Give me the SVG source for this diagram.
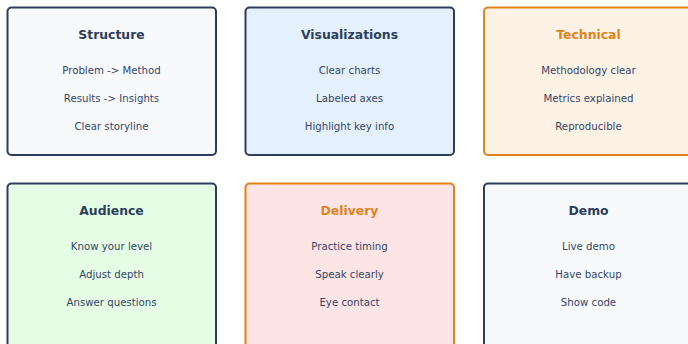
<svg xmlns="http://www.w3.org/2000/svg" width="688" height="344" viewBox="0 0 688 344">
<style>
  .box { stroke-width: 2; }
  .navy { stroke: #2c3e5c; }
  .orange { stroke: #e2821a; }
  .title { font-family: "DejaVu Sans", sans-serif; font-weight: bold; font-size: 12.4px; text-anchor: middle; }
  .tn { fill: #2c3e5c; }
  .to { fill: #e2821a; }
  .item { font-family: "DejaVu Sans", sans-serif; font-size: 10.2px; fill: #34466a; text-anchor: middle; }
</style>
<rect width="688" height="344" fill="#ffffff"/>
<g id="connectors"></g>
<g id="structure">
  <rect class="box navy" x="7.5" y="7.5" width="208.5" height="147.5" rx="4" fill="#f8f9fb"/>
  <text class="title tn" x="111.5" y="38.5">Structure</text>
  <text class="item" x="111.5" y="74">Problem -&gt; Method</text>
  <text class="item" x="111.5" y="102">Results -&gt; Insights</text>
  <text class="item" x="111.5" y="130">Clear storyline</text>
</g>
<g id="visualizations">
  <rect class="box navy" x="245.5" y="7.5" width="208.5" height="147.5" rx="4" fill="#e4f1fd"/>
  <text class="title tn" x="349.5" y="38.5">Visualizations</text>
  <text class="item" x="349.5" y="74">Clear charts</text>
  <text class="item" x="349.5" y="102">Labeled axes</text>
  <text class="item" x="349.5" y="130">Highlight key info</text>
</g>
<g id="technical">
  <rect class="box orange" x="484" y="7.5" width="208.5" height="147.5" rx="4" fill="#fef2e5"/>
  <text class="title to" x="588.5" y="38.5">Technical</text>
  <text class="item" x="588.5" y="74">Methodology clear</text>
  <text class="item" x="588.5" y="102">Metrics explained</text>
  <text class="item" x="588.5" y="130">Reproducible</text>
</g>
<g id="audience">
  <rect class="box navy" x="7.5" y="183.5" width="208.5" height="175" rx="4" fill="#e5fde5"/>
  <text class="title tn" x="111.5" y="214.5">Audience</text>
  <text class="item" x="111.5" y="250">Know your level</text>
  <text class="item" x="111.5" y="278">Adjust depth</text>
  <text class="item" x="111.5" y="306">Answer questions</text>
</g>
<g id="delivery">
  <rect class="box orange" x="245.5" y="183.5" width="208.5" height="175" rx="4" fill="#fde4e5"/>
  <text class="title to" x="349.5" y="214.5">Delivery</text>
  <text class="item" x="349.5" y="250">Practice timing</text>
  <text class="item" x="349.5" y="278">Speak clearly</text>
  <text class="item" x="349.5" y="306">Eye contact</text>
</g>
<g id="demo">
  <rect class="box navy" x="484" y="183.5" width="208.5" height="175" rx="4" fill="#f8f9fb"/>
  <text class="title tn" x="588.5" y="214.5">Demo</text>
  <text class="item" x="588.5" y="250">Live demo</text>
  <text class="item" x="588.5" y="278">Have backup</text>
  <text class="item" x="588.5" y="306">Show code</text>
</g>
</svg>
